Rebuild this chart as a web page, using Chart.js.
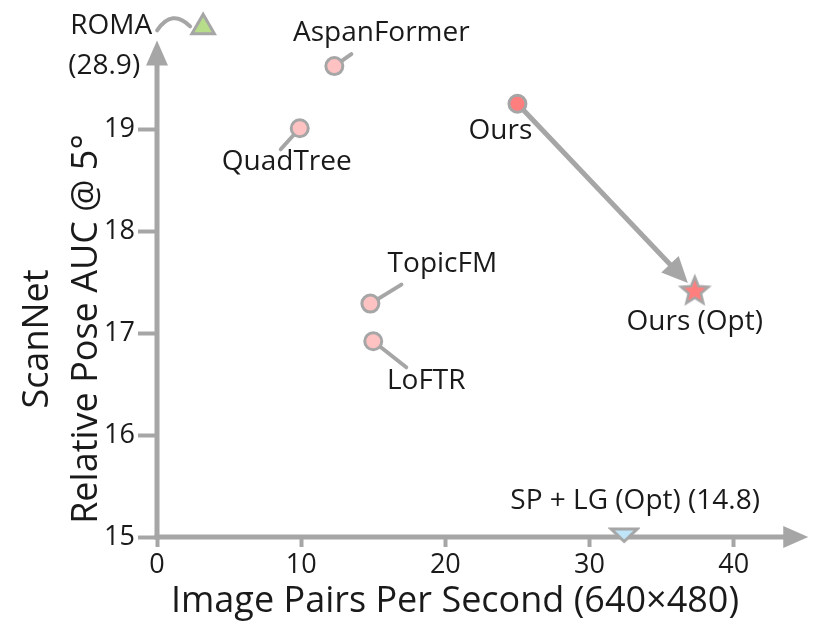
<!DOCTYPE html>
<html>
<head>
<meta charset="utf-8">
<script src="https://cdn.jsdelivr.net/npm/chart.js@4.4.1/dist/chart.umd.min.js"></script>
<style>
  html, body { margin: 0; padding: 0; background: #fff; }
  #wrap { width: 830px; height: 631px; }
</style>
</head>
<body>
<div id="wrap"><canvas id="chart" width="830" height="631"></canvas></div>
<script>
// values
const methods = ["ROMA", "AspanFormer", "QuadTree", "Ours", "Ours (Opt)", "TopicFM", "LoFTR", "SP + LG (Opt)"];
const pairsPerSecond = [3.2, 12.3, 9.9, 25.0, 37.3, 14.8, 15.0, 32.4];
// AUC as placed on the plot (ROMA and SP+LG are off scale, pinned to the edges)
const shownAUC = [20.0, 19.62, 19.01, 19.25, 17.42, 17.29, 16.92, 15.02];
const offScaleAUC = { "ROMA": 28.9, "SP + LG (Opt)": 14.8 };
const xTicks = [0, 10, 20, 30, 40];
const yTicks = [15, 16, 17, 18, 19];

const gray = "#a6a6a6";
const ink = "#1a1a1a";
const fontFam = "'Open Sans', 'Noto Sans', sans-serif";
Chart.defaults.font.family = fontFam;

// five point star marker
function makeStar() {
  const c = document.createElement("canvas");
  c.width = 36; c.height = 36;
  const g = c.getContext("2d");
  g.beginPath();
  for (let i = 0; i < 10; i++) {
    const r = i % 2 === 0 ? 14.5 : 6.4;
    const a = -Math.PI / 2 + i * Math.PI / 5;
    const px = 18 + r * Math.cos(a), py = 19 + r * Math.sin(a);
    if (i === 0) g.moveTo(px, py); else g.lineTo(px, py);
  }
  g.closePath();
  g.fillStyle = "#ff7f7f";
  g.fill();
  g.lineWidth = 2.5;
  g.strokeStyle = gray;
  g.lineJoin = "miter";
  g.stroke();
  return c;
}
// flat downward triangle marker
function makeDownTri() {
  const c = document.createElement("canvas");
  c.width = 32; c.height = 18;
  const g = c.getContext("2d");
  g.beginPath();
  g.moveTo(3, 3); g.lineTo(29, 3); g.lineTo(16, 15.5); g.closePath();
  g.fillStyle = "#bfe5f8";
  g.fill();
  g.lineWidth = 3;
  g.strokeStyle = gray;
  g.stroke();
  return c;
}

const styleOf = {
  "ROMA":          { shape: "triangle", fill: "#b7dc8a", r: 13 },
  "AspanFormer":   { shape: "circle", fill: "#ffc2c2", r: 8.5 },
  "QuadTree":      { shape: "circle", fill: "#ffc2c2", r: 8.5 },
  "Ours":          { shape: "circle", fill: "#ff7f7f", r: 8.5 },
  "Ours (Opt)":    { shape: makeStar(), fill: "#ff7f7f", r: 14 },
  "TopicFM":       { shape: "circle", fill: "#ffc2c2", r: 8.5 },
  "LoFTR":         { shape: "circle", fill: "#ffc2c2", r: 8.5 },
  "SP + LG (Opt)": { shape: makeDownTri(), fill: "#bfe5f8", r: 10 }
};

// label placement, pixel offsets from each marker
const labelPos = {
  "AspanFormer":   { dx: 47, dy: -33, lead: [17, -12] },
  "QuadTree":      { dx: -13, dy: 34, lead: [-19, 21] },
  "Ours":          { dx: -17, dy: 27 },
  "Ours (Opt)":    { dx: 0, dy: 32 },
  "TopicFM":       { dx: 72, dy: -40, lead: [31, -19] },
  "LoFTR":         { dx: 53, dy: 40, lead: [33, 26] },
  "SP + LG (Opt)": { dx: 11, dy: -34 }
};

const points = methods.map((m, i) => ({ x: pairsPerSecond[i], y: shownAUC[i] }));

function px(chart, i) {
  return {
    x: chart.scales.x.getPixelForValue(pairsPerSecond[i]),
    y: chart.scales.y.getPixelForValue(shownAUC[i])
  };
}

const decor = {
  id: "decor",
  beforeDatasetsDraw(chart) {
    const ctx = chart.ctx;
    const xs = chart.scales.x, ys = chart.scales.y;
    const x0 = xs.getPixelForValue(0), y0 = ys.getPixelForValue(15);
    ctx.save();
    ctx.strokeStyle = gray;
    ctx.fillStyle = gray;
    ctx.lineWidth = 5;
    // y axis with arrow
    const yTip = ys.getPixelForValue(19.87);
    ctx.beginPath();
    ctx.moveTo(x0, y0 + 2.5);
    ctx.lineTo(x0, yTip + 20);
    ctx.stroke();
    ctx.beginPath();
    ctx.moveTo(x0, yTip);
    ctx.lineTo(x0 - 11, yTip + 25);
    ctx.lineTo(x0 + 11, yTip + 25);
    ctx.closePath();
    ctx.fill();
    // x axis with arrow
    const xTip = xs.getPixelForValue(45.17);
    ctx.beginPath();
    ctx.moveTo(x0 - 2.5, y0);
    ctx.lineTo(xTip - 20, y0);
    ctx.stroke();
    ctx.beginPath();
    ctx.moveTo(xTip, y0);
    ctx.lineTo(xTip - 25, y0 - 11);
    ctx.lineTo(xTip - 25, y0 + 11);
    ctx.closePath();
    ctx.fill();

    // arrow Ours -> Ours (Opt)
    const a = px(chart, methods.indexOf("Ours"));
    const b = px(chart, methods.indexOf("Ours (Opt)"));
    const ang = Math.atan2(b.y - a.y, b.x - a.x);
    const tip = { x: b.x - 10 * Math.cos(ang), y: b.y - 10 * Math.sin(ang) };
    const base = { x: tip.x - 26 * Math.cos(ang), y: tip.y - 26 * Math.sin(ang) };
    ctx.lineWidth = 5;
    ctx.beginPath();
    ctx.moveTo(a.x, a.y);
    ctx.lineTo(base.x + 3 * Math.cos(ang), base.y + 3 * Math.sin(ang));
    ctx.stroke();
    ctx.beginPath();
    ctx.moveTo(tip.x, tip.y);
    ctx.lineTo(base.x - 12 * Math.sin(ang), base.y + 12 * Math.cos(ang));
    ctx.lineTo(base.x + 12 * Math.sin(ang), base.y - 12 * Math.cos(ang));
    ctx.closePath();
    ctx.fill();

    // leader lines
    ctx.lineWidth = 4;
    ctx.lineCap = "round";
    methods.forEach((m, i) => {
      const lp = labelPos[m];
      if (!lp || !lp.lead) return;
      const p = px(chart, i);
      ctx.beginPath();
      ctx.moveTo(p.x, p.y);
      ctx.lineTo(p.x + lp.lead[0], p.y + lp.lead[1]);
      ctx.stroke();
    });
    // ROMA curved connector
    const r = px(chart, methods.indexOf("ROMA"));
    ctx.beginPath();
    ctx.moveTo(r.x - 46, r.y + 3);
    ctx.quadraticCurveTo(r.x - 31, r.y - 19, r.x - 13, r.y - 1);
    ctx.stroke();
    ctx.restore();
  },
  afterDatasetsDraw(chart) {
    const ctx = chart.ctx;
    ctx.save();
    ctx.fillStyle = ink;
    ctx.font = "28px " + fontFam;
    ctx.textBaseline = "middle";
    ctx.textAlign = "center";
    methods.forEach((m, i) => {
      const lp = labelPos[m];
      if (!lp) return;
      const p = px(chart, i);
      let txt = m;
      if (offScaleAUC[m] !== undefined) txt = m + " (" + offScaleAUC[m] + ")";
      ctx.fillText(txt, p.x + lp.dx, p.y + lp.dy);
    });
    const r = px(chart, methods.indexOf("ROMA"));
    ctx.textAlign = "right";
    ctx.fillText("ROMA", r.x - 51, r.y - 1);
    ctx.fillText("(" + offScaleAUC["ROMA"] + ")", r.x - 63, r.y + 39);

    // axis titles
    ctx.font = "36px " + fontFam;
    ctx.textAlign = "center";
    ctx.fillText("Image Pairs Per Second (640×480)", 455, 602);
    ctx.translate(0, 333);
    ctx.rotate(-Math.PI / 2);
    ctx.fillText("ScanNet", -6, 38);
    ctx.fillText("Relative Pose AUC @ 5°", 4, 87);
    ctx.restore();
  }
};

const ctx = document.getElementById("chart").getContext("2d");
const data = {
  datasets: [{
    data: points,
    pointStyle: methods.map(m => styleOf[m].shape),
    pointBackgroundColor: methods.map(m => styleOf[m].fill),
    pointBorderColor: gray,
    pointBorderWidth: 3,
    pointRadius: methods.map(m => styleOf[m].r),
    pointHoverRadius: methods.map(m => styleOf[m].r),
    pointRotation: 0,
    showLine: false,
    clip: false
  }]
};

const config = {
  type: "scatter",
  data: data,
  options: {
    responsive: false,
    animation: false,
    events: [],
    layout: { padding: { left: 0, top: 3, right: 13, bottom: 0 } },
    plugins: { legend: { display: false }, tooltip: { enabled: false } },
    scales: {
      x: {
        type: "linear",
        min: 0,
        max: 45.5,
        afterBuildTicks: s => { s.ticks = xTicks.map(v => ({ value: v })); },
        afterFit: s => { s.height = 94; },
        border: { display: false },
        grid: { drawOnChartArea: false, drawTicks: true, tickLength: 10, tickWidth: 4, tickColor: gray },
        ticks: { color: ink, font: { size: 27 }, padding: 2, maxRotation: 0, autoSkip: false }
      },
      y: {
        type: "linear",
        min: 15,
        max: 20.08,
        afterBuildTicks: s => { s.ticks = yTicks.map(v => ({ value: v })); },
        afterFit: s => { s.width = 157; },
        border: { display: false },
        grid: { drawOnChartArea: false, drawTicks: true, tickLength: 19, tickWidth: 4, tickColor: gray },
        ticks: { color: ink, font: { size: 27 }, padding: 3 }
      }
    }
  },
  plugins: [decor]
};

const chart = new Chart(ctx, config);
</script>
</body>
</html>
